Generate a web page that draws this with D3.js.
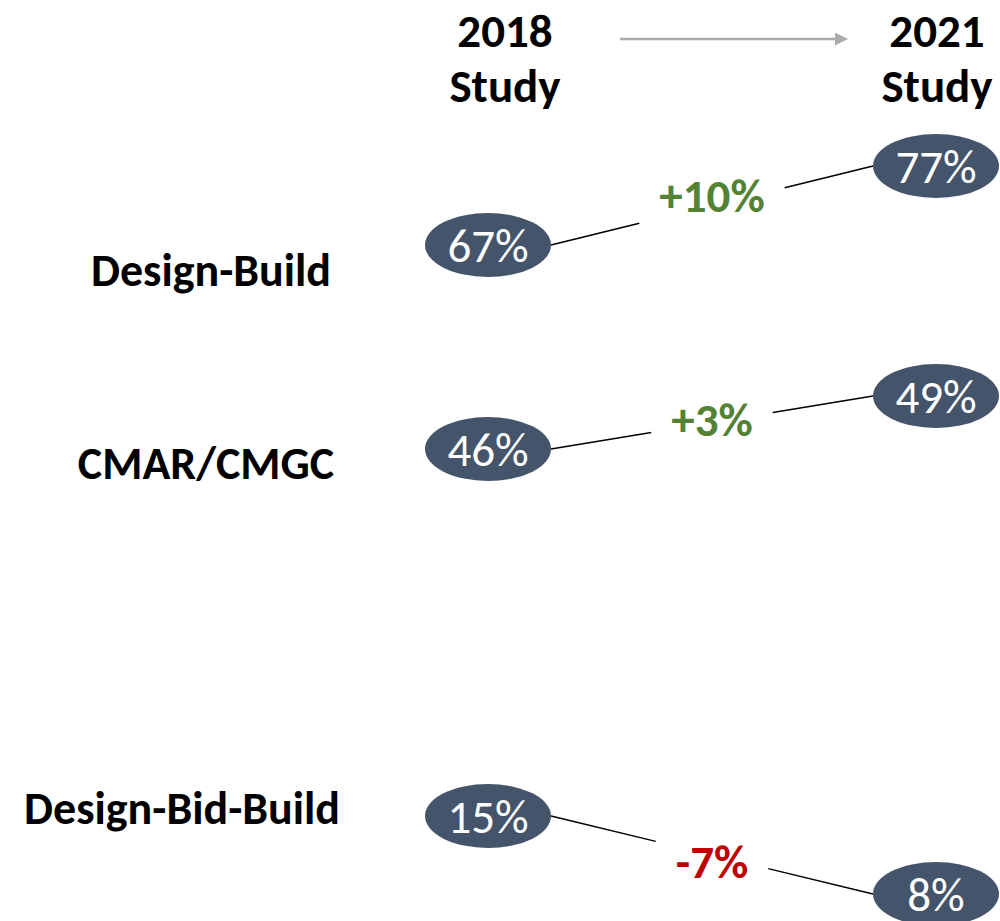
<!DOCTYPE html>
<html>
<head>
<meta charset="utf-8">
<script src="https://cdn.jsdelivr.net/npm/d3@7"></script>
<style>
  body { margin: 0; background: #fff; }
  svg { display: block; font-family: Carlito, Calibri, Lato, sans-serif; }
</style>
</head>
<body>
<svg width="1000" height="921"></svg>
<script>
// data
const methods = ['Design-Build', 'CMAR/CMGC', 'Design-Bid-Build']
const study2018 = [67, 46, 15]
const study2021 = [77, 49, 8]
const studies = ['2018', '2021']
const studyWord = 'Study'

const svg = d3.select('svg')
const width = 1000
const height = 921

const rx = 63
const ry = 32

// column positions
const x = d3.scalePoint().domain(studies).range([488, 936])
const headerX = d3.scalePoint().domain(studies).range([505, 937])

// each column places its values on its own (piecewise) vertical scale
const y2018 = d3.scaleLinear().domain([15, 46, 67]).range([816, 449, 245])
const y2021 = d3.scaleLinear().domain([8, 49, 77]).range([894, 396, 166])

// row labels
const rowY = d3.scaleOrdinal().domain(methods).range([270, 463, 808])
const rowX = d3.scaleOrdinal().domain(methods).range([211, 206, 182])

const rows = methods.map((m, i) => ({ method: m, a: study2018[i], b: study2021[i], change: study2021[i] - study2018[i] }))

const fmtChange = d => (d > 0 ? '+' : '-') + Math.abs(d) + '%'

// headers
const headers = svg.selectAll('.header').data(studies)
  .enter().append('text')
    .attr('class', 'header')
    .attr('x', d => headerX(d))
    .attr('y', 47)
    .attr('text-anchor', 'middle')
    .attr('font-size', 47)
    .attr('font-weight', 'bold')
    .attr('fill', '#000')

headers.append('tspan').text(d => d)
headers.append('tspan')
  .attr('x', d => headerX(d))
  .attr('dy', 55)
  .text(studyWord)

// arrow between the headers
svg.append('defs').append('marker')
  .attr('id', 'head')
  .attr('viewBox', '0 0 10 10')
  .attr('refX', 0)
  .attr('refY', 5)
  .attr('markerWidth', 5)
  .attr('markerHeight', 5)
  .attr('markerUnits', 'strokeWidth')
  .attr('orient', 'auto')
  .append('path')
    .attr('d', 'M0,0 L10,5 L0,10 Z')
    .attr('fill', '#aeaaaa')

svg.append('line')
  .attr('x1', 620)
  .attr('x2', 835)
  .attr('y1', 39)
  .attr('y2', 39)
  .attr('stroke', '#aeaaaa')
  .attr('stroke-width', 2.6)
  .attr('marker-end', 'url(#head)')

// row labels
svg.selectAll('.method').data(methods)
  .enter().append('text')
    .attr('class', 'method')
    .attr('x', d => rowX(d))
    .attr('y', d => rowY(d))
    .attr('dy', '0.35em')
    .attr('text-anchor', 'middle')
    .attr('font-size', 46)
    .attr('font-weight', 'bold')
    .attr('fill', '#000')
    .text(d => d)

// slope groups
const g = svg.selectAll('.row').data(rows)
  .enter().append('g')
    .attr('class', 'row')

g.each(function (d) {
  const grp = d3.select(this)
  const x1 = x('2018') + rx
  const y1 = y2018(d.a)
  const x2 = x('2021') - rx
  const y2 = y2021(d.b)
  const mx = (x1 + x2) / 2
  const my = (y1 + y2) / 2

  const label = grp.append('text')
    .attr('x', mx)
    .attr('y', my - d.change)
    .attr('dy', '0.35em')
    .attr('text-anchor', 'middle')
    .attr('font-size', 47)
    .attr('font-weight', 'bold')
    .attr('fill', d.change > 0 ? '#548235' : '#c00000')
    .text(fmtChange(d.change))

  const half = label.node().getComputedTextLength() / 2 + 20
  const at = px => y1 + (y2 - y1) * (px - x1) / (x2 - x1)

  grp.insert('line', 'text')
    .attr('x1', x1).attr('y1', y1)
    .attr('x2', mx - half).attr('y2', at(mx - half))
    .attr('stroke', '#000').attr('stroke-width', 1.5)
  grp.insert('line', 'text')
    .attr('x1', mx + half).attr('y1', at(mx + half))
    .attr('x2', x2).attr('y2', y2)
    .attr('stroke', '#000').attr('stroke-width', 1.5)
})

// value bubbles
const bubbles = [
  ...rows.map(d => ({ study: '2018', value: d.a, y: y2018(d.a) })),
  ...rows.map(d => ({ study: '2021', value: d.b, y: y2021(d.b) }))
]

const b = svg.selectAll('.bubble').data(bubbles)
  .enter().append('g')
    .attr('class', 'bubble')
    .attr('transform', d => `translate(${x(d.study)},${d.y})`)

b.append('ellipse')
  .attr('rx', rx)
  .attr('ry', ry)
  .attr('fill', '#44546a')

b.append('text')
  .attr('text-anchor', 'middle')
  .attr('dy', '0.36em')
  .attr('font-size', 47)
  .attr('fill', '#fff')
  .text(d => d.value + '%')
</script>
</body>
</html>
